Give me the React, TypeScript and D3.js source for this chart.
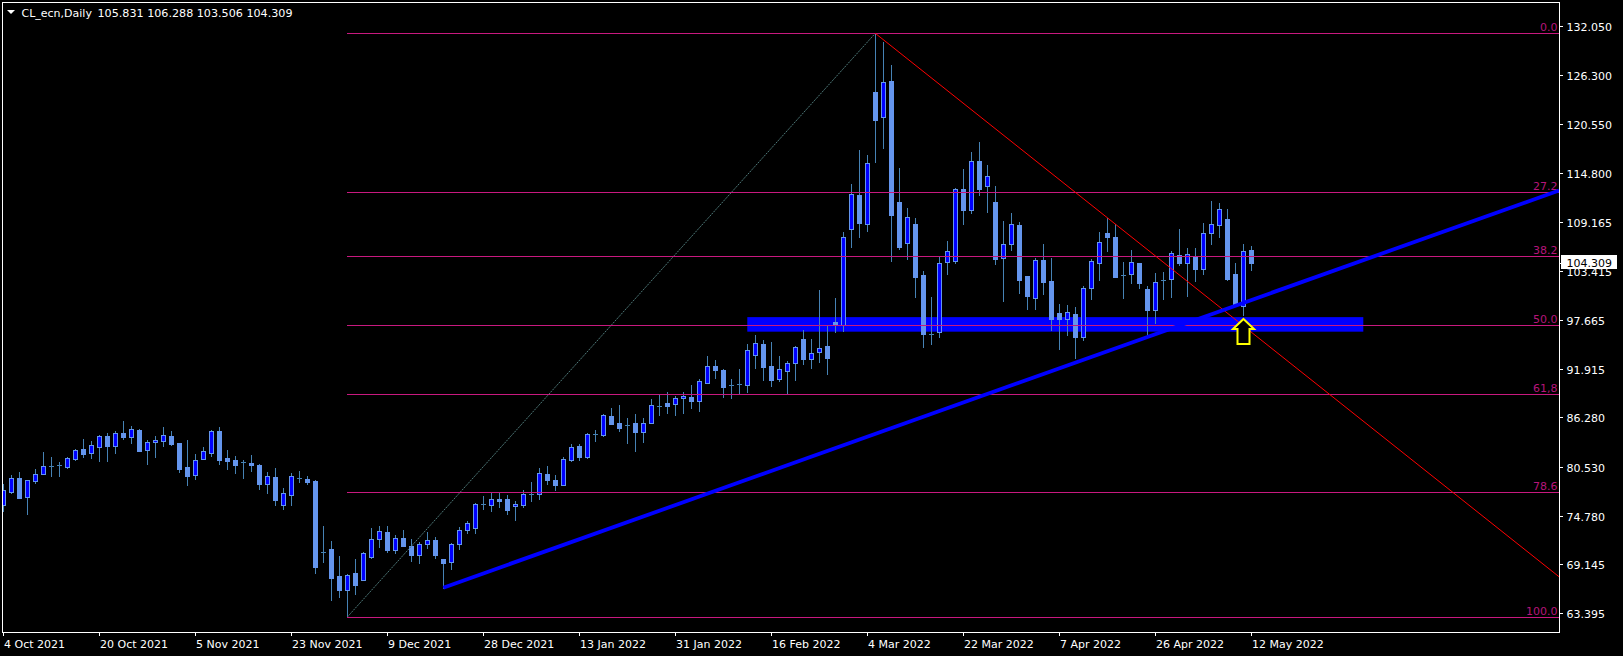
import React from 'react';
import * as d3 from 'd3';

const W = 1623;
const H = 656;

// OHLC, one bar per trading day starting 4 Oct 2021
const opens = [76.09,77.60,79.16,77.02,78.89,79.71,80.56,80.68,80.49,81.42,82.55,82.08,82.86,84.11,82.98,84.46,84.03,84.81,82.51,83.37,83.56,84.11,83.29,80.49,79.59,81.46,82.16,84.69,81.54,81.30,81.03,80.95,80.72,78.54,79.32,76.09,77.25,79.16,79.08,78.85,70.59,70.87,67.71,66.15,68.06,67.32,69.97,72.11,72.89,70.83,72.19,71.22,70.24,71.45,71.92,69.74,69.35,71.45,73.17,73.40,76.13,76.09,76.71,76.71,75.89,76.09,77.29,77.30,79.67,78.97,78.42,81.31,82.94,81.69,84.38,84.23,86.45,85.63,85.36,85.63,84.54,85.63,87.65,87.97,87.89,88.51,88.67,88.24,90.34,92.29,91.82,90.11,90.15,90.11,93.61,94.90,92.29,90.81,91.74,92.68,95.44,93.15,93.96,94.63,97.43,97.12,108.26,112.27,108.84,124.30,121.34,125.59,111.45,106.62,108.88,102.92,96.07,96.22,104.40,104.52,112.97,110.48,116.28,113.28,111.45,104.91,106.50,108.76,102.80,100.19,104.67,102.22,98.48,97.74,98.33,95.64,101.36,104.28,107.83,107.36,102.92,103.00,104.32,101.29,98.87,102.30,102.41,105.22,104.28,105.10,103.66,107.79,108.72,109.43,103.00,99.26,105.831];
const highs = [78.50,79.51,79.90,78.98,80.21,82.24,81.66,81.07,81.69,82.55,83.76,83.52,84.23,84.46,84.65,85.86,85.28,84.93,83.60,84.11,85.16,84.65,83.33,83.64,81.97,82.82,84.81,85.16,82.43,81.77,81.27,81.89,80.80,79.90,80.37,78.03,79.75,80.02,79.44,78.97,73.59,71.84,70.09,67.99,69.74,70.56,73.36,73.59,73.59,72.54,73.13,72.04,71.72,72.89,72.35,69.78,71.65,73.52,74.18,76.24,77.10,77.41,77.41,77.22,76.48,77.80,78.77,80.37,80.60,79.55,81.66,83.17,83.17,84.46,84.81,86.64,87.38,87.73,86.21,86.64,86.21,88.47,88.90,89.25,88.82,89.25,90.07,90.77,93.46,92.99,91.94,90.77,91.94,94.86,95.91,95.33,95.09,93.46,92.87,94.62,96.49,95.44,101.17,96.96,100.23,107.95,113.55,117.53,116.94,131.16,130.15,127.46,115.46,110.75,109.54,103.39,100.35,105.02,106.93,113.13,115.35,117.33,118.46,115.81,113.36,109.27,110.20,109.15,102.85,104.95,106.54,104.91,99.53,99.42,99.22,101.67,104.79,107.98,109.62,108.84,104.44,105.84,104.36,101.64,103.16,103.27,105.76,108.30,106.04,106.08,108.96,111.57,111.33,110.63,104.32,106.50,106.288];
const lows = [75.38,77.49,76.85,75.03,78.66,79.65,79.44,79.44,80.41,81.30,81.69,81.58,81.19,81.19,82.12,83.76,83.33,82.30,80.84,81.66,82.94,83.10,79.90,78.38,79.08,81.40,81.77,80.88,80.25,79.79,79.20,80.02,77.92,77.45,76.05,75.58,76.05,78.73,78.54,68.10,69.42,64.95,65.34,62.96,65.69,67.28,69.85,71.18,70.59,70.48,71.20,69.54,69.31,71.06,69.89,66.39,68.61,70.95,72.74,72.74,75.62,75.39,75.77,75.03,74.33,75.77,76.55,76.78,78.50,77.80,78.40,81.23,81.34,81.58,83.56,84.15,85.50,84.73,83.33,82.40,83.41,85.60,86.60,86.84,86.60,86.84,87.38,87.07,90.30,90.93,88.71,88.59,89.17,89.29,92.09,90.69,89.99,90.57,89.17,90.69,92.52,92.05,92.76,91.39,96.30,96.42,106.23,107.40,108.10,116.16,117.80,104.60,106.00,104.83,100.39,94.55,94.86,95.64,103.04,104.36,108.92,110.20,112.31,110.28,104.25,99.92,105.84,100.86,98.91,98.99,100.70,96.53,94.30,95.91,93.20,95.33,100.12,102.38,105.76,102.70,100.27,101.95,101.44,95.72,97.35,100.08,100.39,104.05,100.51,102.26,103.04,106.58,107.40,102.30,99.40,98.29,103.506];
const closes = [77.80,79.16,76.90,78.93,79.63,80.56,80.56,80.68,81.50,82.43,82.04,83.02,84.07,82.94,84.42,84.03,84.89,82.36,83.37,83.60,84.19,83.21,80.25,79.44,81.27,82.32,84.69,81.30,81.19,80.76,81.03,80.76,78.50,79.40,76.63,77.41,79.40,79.16,78.73,68.84,70.59,67.56,66.15,67.83,66.74,70.40,72.04,72.97,70.79,72.15,71.26,70.24,71.45,71.92,70.24,69.31,71.45,73.09,73.91,76.13,76.13,76.71,76.51,75.50,76.16,77.29,77.29,79.75,78.93,78.42,81.38,82.82,81.69,84.34,84.38,86.52,85.55,85.08,85.36,84.62,85.59,87.69,87.65,87.61,88.55,88.78,88.20,90.54,92.29,91.82,89.83,90.11,90.15,94.16,94.98,92.21,90.69,91.94,92.64,94.51,93.11,93.81,94.39,93.22,97.11,107.32,112.39,109.04,115.97,121.07,125.43,109.97,106.19,109.70,102.73,95.99,96.07,104.32,105.73,112.97,110.56,116.20,113.01,114.49,104.83,106.50,108.88,102.38,100.51,104.67,102.14,97.82,97.82,98.56,95.64,101.36,104.56,106.74,107.40,102.73,102.92,104.40,102.03,98.87,102.06,102.30,105.45,104.36,105.34,103.66,107.79,108.84,110.59,102.45,99.42,105.69,104.309];

const dateLabels = ['4 Oct 2021','20 Oct 2021','5 Nov 2021','23 Nov 2021','9 Dec 2021','28 Dec 2021','13 Jan 2022','31 Jan 2022','16 Feb 2022','4 Mar 2022','22 Mar 2022','7 Apr 2022','26 Apr 2022','12 May 2022'];
const dateStep = 12;
const priceTicks = [132.05,126.3,120.55,114.8,109.165,103.415,97.665,91.915,86.28,80.53,74.78,69.145,63.395];

const fibLevels = [0, 0.272, 0.382, 0.5, 0.618, 0.786, 1.0];
const fibLabels = ['0.0','27.2','38.2','50.0','61,8','78.6','100.0'];
const fibHigh = { i: 109, p: 131.16 };
const fibLow = { i: 43, p: 62.96 };
const trendPts = [{ i: 55, p: 66.39 }, { i: 150, p: 98.0 }];
const redPts = [{ i: 109, p: 131.16 }, { i: 150, p: 100.70 }];
const zone = { i0: 93, i1: 170, top: 98.0, bottom: 96.3 };
const arrowPt = { i: 155, p: 97.75 };
const symbolText = 'CL_ecn,Daily';
const ohlcText = '105.831 106.288 103.506 104.309';
const lastPrice = 104.309;

const PL = 2, PR = 1559, PT = 2, PB = 632;
const FONT = 'DejaVu Sans';

const xScale = d3.scaleLinear().domain([0, 156]).range([3.3, 1251.3]);
const yScale = d3.scaleLinear().domain([63.395, 132.05]).range([613.3, 25.7]);

const BULL_FILL = '#0000FF';
const CANDLE_LIGHT = '#6495ED';
const WICK = '#4682B4';
const FIB = '#C8197F';
const FIB_TEXT = '#B5157A';

function rayEnd(a: { i: number; p: number }, b: { i: number; p: number }) {
  const x1 = xScale(a.i), y1 = yScale(a.p), x2 = xScale(b.i), y2 = yScale(b.p);
  const s = (y2 - y1) / (x2 - x1);
  return { x1, y1, x2: PR, y2: y1 + s * (PR - x1) };
}

export default function App() {
  const fibY = fibLevels.map((l) => yScale(fibHigh.p - l * (fibHigh.p - fibLow.p)));
  const fibX0 = xScale(fibLow.i);
  const trend = rayEnd(trendPts[0], trendPts[1]);
  const red = rayEnd(redPts[0], redPts[1]);
  const ax = Math.round(xScale(arrowPt.i)) + 0.5;
  const ay = Math.round(yScale(arrowPt.p));
  const arrowPath = d3.line()([
    [ax, ay], [ax + 10.5, ay + 10], [ax + 6, ay + 10], [ax + 6, ay + 25],
    [ax - 6, ay + 25], [ax - 6, ay + 10], [ax - 10.5, ay + 10],
  ]) + 'Z';
  const zx0 = xScale(zone.i0), zx1 = xScale(zone.i1);
  const zy0 = yScale(zone.top), zy1 = yScale(zone.bottom);
  const lastY = yScale(lastPrice);

  return (
    <svg width={W} height={H} style={{ position: 'absolute', left: 0, top: 0, display: 'block' }}
      fontFamily={FONT}>
      <defs>
        <clipPath id="plot">
          <rect x={PL} y={PT} width={PR - PL} height={PB - PT} />
        </clipPath>
      </defs>
      <rect x={0} y={0} width={W} height={H} fill="#000" />
      <g clipPath="url(#plot)">
        {/* background zone */}
        <rect x={zx0} y={zy0} width={zx1 - zx0} height={zy1 - zy0} fill="#0000FF" />
        {/* candles */}
        {opens.map((o, i) => {
          const c = closes[i];
          const cx = Math.round(xScale(i));
          const yh = Math.round(yScale(highs[i]));
          const yl = Math.round(yScale(lows[i]));
          const yo = Math.round(yScale(o));
          const yc = Math.round(yScale(c));
          const top = Math.min(yo, yc), bot = Math.max(yo, yc);
          let body;
          if (Math.abs(o - c) < 0.02) {
            body = <line x1={cx - 2} x2={cx + 3} y1={yo + 0.5} y2={yo + 0.5} stroke={WICK} strokeWidth={1.5} />;
          } else if (c > o) {
            body = <rect x={cx - 1.5} y={top + 0.5} width={4} height={Math.max(bot - top, 1)} fill={BULL_FILL} stroke={CANDLE_LIGHT} strokeWidth={1} />;
          } else {
            body = <rect x={cx - 2} y={top} width={5} height={Math.max(bot - top + 1, 1)} fill={CANDLE_LIGHT} />;
          }
          return (
            <g key={i} shapeRendering="crispEdges">
              <line x1={cx + 0.5} x2={cx + 0.5} y1={yh} y2={yl + 1} stroke={WICK} strokeWidth={1} />
              {body}
            </g>
          );
        })}
        {/* fibonacci */}
        <line x1={xScale(fibLow.i)} y1={yScale(fibLow.p)} x2={xScale(fibHigh.i)} y2={yScale(fibHigh.p)}
          stroke="#4F7A7A" strokeWidth={1} strokeDasharray="2,1" />
        {fibY.map((y, k) => (
          <g key={k}>
            <line x1={fibX0} x2={PR} y1={Math.round(y) + 0.5} y2={Math.round(y) + 0.5} stroke={FIB} strokeWidth={1} shapeRendering="crispEdges" />
            <text x={PR - 1.5} y={Math.round(y) - 2.5} textAnchor="end" fontSize={11} fill={FIB_TEXT}>{fibLabels[k]}</text>
          </g>
        ))}
        {/* red trend line */}
        <line x1={red.x1} y1={red.y1} x2={red.x2} y2={red.y2} stroke="#FF0000" strokeWidth={1} />
        {/* blue trend line */}
        <line x1={trend.x1} y1={trend.y1} x2={trend.x2} y2={trend.y2} stroke="#0000FF" strokeWidth={3.8} />
        {/* arrow */}
        <path d={arrowPath} fill="#000" stroke="#FFFF00" strokeWidth={2} strokeLinejoin="miter" />
      </g>
      {/* header */}
      <path d={d3.line()([[7, 10], [15, 10], [11, 14]]) + 'Z'} fill="#fff" />
      <text x={21.5} y={17} fontSize={11} fill="#fff">{symbolText}</text>
      <text x={97.5} y={17} fontSize={11} fill="#fff" textLength={195} lengthAdjust="spacingAndGlyphs">{ohlcText}</text>
      {/* frame */}
      <rect x={PL + 0.5} y={PT + 0.5} width={PR - PL} height={PB - PT} fill="none" stroke="#fff" strokeWidth={1} shapeRendering="crispEdges" />
      {/* price axis */}
      {priceTicks.map((p, k) => {
        const y = Math.round(yScale(p));
        return (
          <g key={k}>
            <line x1={PR} x2={PR + 4} y1={y + 0.5} y2={y + 0.5} stroke="#fff" shapeRendering="crispEdges" />
            <text x={1566.5} y={y + 4.5} fontSize={11} fill="#fff">{p.toFixed(3)}</text>
          </g>
        );
      })}
      <rect x={1561} y={Math.round(lastY) - 8} width={56} height={14} fill="#fff" />
      <line x1={PR} x2={PR + 4} y1={Math.round(lastY) + 0.5} y2={Math.round(lastY) + 0.5} stroke="#fff" shapeRendering="crispEdges" />
      <text x={1566.5} y={Math.round(lastY) + 4} fontSize={11} fill="#000">{lastPrice.toFixed(3)}</text>
      {/* time axis */}
      {dateLabels.map((d, k) => {
        const x = Math.round(xScale(k * dateStep));
        return (
          <g key={k}>
            <line x1={x + 0.5} x2={x + 0.5} y1={PB} y2={PB + 4} stroke="#fff" shapeRendering="crispEdges" />
            <text x={x + 1} y={648} fontSize={11} fill="#fff">{d}</text>
          </g>
        );
      })}
    </svg>
  );
}
